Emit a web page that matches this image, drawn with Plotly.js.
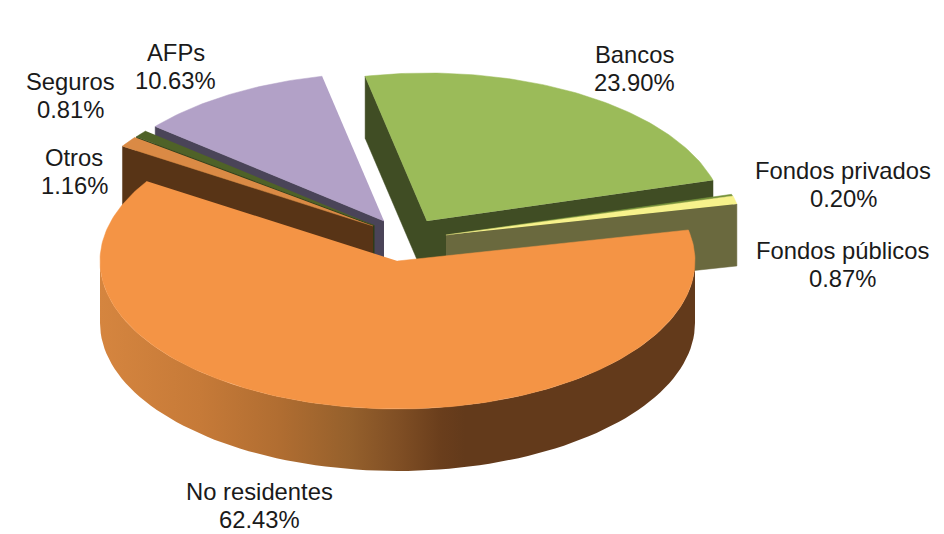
<!DOCTYPE html>
<html>
<head>
<meta charset="utf-8">
<script src="https://cdn.plot.ly/plotly-3.0.1.min.js"></script>
<style>html,body{margin:0;padding:0;background:#fff}#chart{width:944px;height:534px}</style>
</head>
<body>
<div id="chart"></div>
<script>
// Data, clockwise from the start of "Bancos"
var sliceLabels = ['Bancos','Fondos privados','Fondos públicos','No residentes','Otros','Seguros','AFPs'];
var sliceShares = [23.90,0.20,0.87,62.43,1.16,0.81,10.63];
var topColors   = ['#9bbb59','#77933c','#f7f28c','#f49445','#da8a45','#4f6228','#b2a1c7'];
var faceColors  = ['#404d24','#404d24','#6a693e','#653a1a','#583416','#2f3b18','#4a4458'];
// Each slice's pulled-out centre in the picture
var centreX = [427,445.5,446,397.5,373,374.5,384];
var centreY = [221,235,235,261,226,225.5,221];
var labelX  = [634,843,842,259.5,74,70,175.5];
var labelY  = [68,184.5,264.5,505.5,171.5,95.5,66.5];
var wallStops = ['#d5853f','#c67a38','#b06d31','#95602c','#7f4e24','#6a3e1c','#633a1b','#633a1b'];
var wallStopX = [100,200,280,350,400,440,465,695];

var A = 297.5, B = 148, DEPTH = 62, START = 102;

function rim(i, deg, drop) {
  var r = deg * Math.PI / 180;
  return [centreX[i] + A * Math.cos(r), centreY[i] - B * Math.sin(r) + (drop || 0)];
}
function poly(pts, color, name) {
  return {
    type: 'scatter', mode: 'lines', name: name, hoverinfo: 'skip', showlegend: false,
    x: pts.map(function (p) { return p[0]; }),
    y: pts.map(function (p) { return p[1]; }),
    fill: 'toself', fillcolor: color,
    line: {color: color, width: 0.5}
  };
}

// Slice angle ranges derived from the shares
var total = sliceShares.reduce(function (s, v) { return s + v; }, 0);
var angles = [], cur = START;
sliceShares.forEach(function (v) {
  var next = cur - v / total * 360;
  angles.push([cur, next]);
  cur = next;
});

function cutFace(i, deg) {
  var apex = [centreX[i], centreY[i]];
  return poly([apex, rim(i, deg), rim(i, deg, DEPTH), [apex[0], apex[1] + DEPTH]], faceColors[i], sliceLabels[i] + ' face');
}
function topFace(i) {
  var pts = [[centreX[i], centreY[i]]];
  var n = Math.max(2, Math.ceil(Math.abs(angles[i][0] - angles[i][1])));
  for (var k = 0; k <= n; k++) pts.push(rim(i, angles[i][0] + (angles[i][1] - angles[i][0]) * k / n));
  return poly(pts, topColors[i], sliceLabels[i]);
}

var traces = [];
// Painter's order: back slices first, "No residentes" last
traces.push(cutFace(0, angles[0][0]), cutFace(0, angles[0][1]), topFace(0));
traces.push(cutFace(1, angles[1][1]), topFace(1));
traces.push(cutFace(2, angles[2][1]), topFace(2));
[6, 5, 4].forEach(function (i) {
  traces.push(cutFace(i, angles[i][0]), topFace(i));
});
// Outer wall of the largest slice with a horizontal gradient
var wall = [], m = 3, d;
for (d = 180; d <= 360; d += 2) wall.push(rim(m, d));
for (d = 360; d >= 180; d -= 2) wall.push(rim(m, d, DEPTH));
var wallTrace = poly(wall, '#8d5826', 'No residentes wall');
var x0 = wallStopX[0], x1 = wallStopX[wallStopX.length - 1];
wallTrace.fillgradient = {
  type: 'horizontal',
  colorscale: wallStops.map(function (c, k) { return [(wallStopX[k] - x0) / (x1 - x0), c]; })
};
wallTrace.line = {width: 0};
traces.push(wallTrace);
traces.push(topFace(m));

var LINE_GAP = 14;
var annotations = [];
sliceLabels.forEach(function (l, i) {
  [[l, -LINE_GAP], [sliceShares[i].toFixed(2) + '%', LINE_GAP]].forEach(function (row) {
    annotations.push({
      xref: 'x', yref: 'y', x: labelX[i], y: labelY[i] + row[1],
      text: row[0],
      showarrow: false, xanchor: 'center', yanchor: 'middle', align: 'center',
      font: {family: 'Liberation Sans, Arial, sans-serif', size: 23.8, color: '#1a1a1a'}
    });
  });
});

Plotly.newPlot('chart', traces, {
  width: 944, height: 534,
  margin: {l: 0, r: 0, t: 0, b: 0},
  paper_bgcolor: '#ffffff', plot_bgcolor: '#ffffff',
  showlegend: false,
  hovermode: false,
  xaxis: {range: [0, 944], visible: false, fixedrange: true},
  yaxis: {range: [534, 0], visible: false, fixedrange: true},
  annotations: annotations
}, {displayModeBar: false, staticPlot: true});
</script>
</body>
</html>
